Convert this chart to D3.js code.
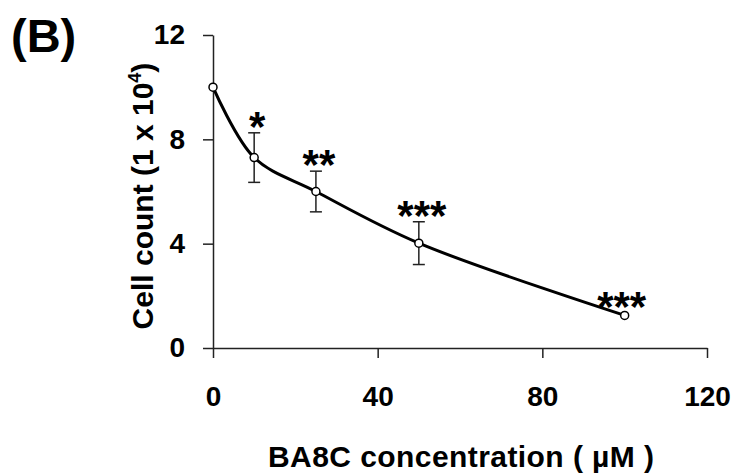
<!DOCTYPE html>
<html>
<head>
<meta charset="utf-8">
<script src="https://d3js.org/d3.v7.min.js"></script>
<style>
  body { margin: 0; background: #fff; }
  text { font-family: "Liberation Sans", Arial, sans-serif; font-weight: bold; fill: #000; }
</style>
</head>
<body>
<svg id="chart"></svg>
<script>
// concentrations (uM) and cell counts (x 10^4)
var conc = [0, 10, 25, 50, 100];
var count = [10.0, 7.3, 6.0, 4.02, 1.25];
var err = [0, 0.95, 0.78, 0.82, 0];
var stars = ["", "*", "**", "***", "***"];
var xTicks = [0, 40, 80, 120];
var yTicks = [0, 4, 8, 12];

var W = 739, H = 474;
var svg = d3.select("#chart").attr("width", W).attr("height", H);

var x = d3.scaleLinear().domain([0, 120]).range([213, 707]);
var y = d3.scaleLinear().domain([0, 12]).range([348, 35]);

// axes
var xAxis = svg.append("g")
    .attr("transform", "translate(0," + y(0) + ")")
    .call(d3.axisBottom(x).tickValues(xTicks).tickSize(10).tickSizeOuter(0).tickPadding(28));
var yAxis = svg.append("g")
    .attr("transform", "translate(" + x(0) + ",0)")
    .call(d3.axisLeft(y).tickValues(yTicks).tickSize(10).tickSizeOuter(0).tickPadding(18));

[xAxis, yAxis].forEach(function(g) {
  g.select(".domain").attr("stroke", "#222").attr("stroke-width", 1.5);
  g.selectAll(".tick line").attr("stroke", "#222").attr("stroke-width", 1.5);
  g.selectAll("text").attr("font-family", "Liberation Sans, Arial, sans-serif").attr("font-weight", "bold").attr("fill", "#000");
});
xAxis.selectAll("text").attr("font-size", 28).attr("dy", "0.71em");
yAxis.selectAll("text").attr("font-size", 28);

var data = conc.map(function(c, i) { return {c: c, v: count[i], e: err[i], s: stars[i]}; });

// smoothed line
var line = d3.line()
    .x(function(d) { return x(d.c); })
    .y(function(d) { return y(d.v); })
    .curve(d3.curveCatmullRom.alpha(0.5));

svg.append("path")
    .datum(data)
    .attr("d", line)
    .attr("fill", "none")
    .attr("stroke", "#000")
    .attr("stroke-width", 3);

// error bars
var eb = svg.selectAll(".err").data(data.filter(function(d) { return d.e > 0; }))
  .enter().append("g").attr("stroke", "#222").attr("stroke-width", 1.5);
eb.append("line")
    .attr("x1", function(d) { return x(d.c); })
    .attr("x2", function(d) { return x(d.c); })
    .attr("y1", function(d) { return y(d.v + d.e); })
    .attr("y2", function(d) { return y(d.v - d.e); });
eb.append("line")
    .attr("x1", function(d) { return x(d.c) - 6; })
    .attr("x2", function(d) { return x(d.c) + 6; })
    .attr("y1", function(d) { return y(d.v + d.e); })
    .attr("y2", function(d) { return y(d.v + d.e); });
eb.append("line")
    .attr("x1", function(d) { return x(d.c) - 6; })
    .attr("x2", function(d) { return x(d.c) + 6; })
    .attr("y1", function(d) { return y(d.v - d.e); })
    .attr("y2", function(d) { return y(d.v - d.e); });

// markers
svg.selectAll(".pt").data(data).enter().append("circle")
    .attr("cx", function(d) { return x(d.c); })
    .attr("cy", function(d) { return y(d.v); })
    .attr("r", 4)
    .attr("fill", "#fff")
    .attr("stroke", "#000")
    .attr("stroke-width", 1.5);

// significance stars
svg.selectAll(".star").data(data.filter(function(d) { return d.s; })).enter().append("text")
    .attr("x", function(d) { return x(d.c) + (d.e > 0 ? 3 : -3); })
    .attr("y", function(d) { return y(d.v + d.e) + (d.e > 0 ? 8 : 6); })
    .attr("text-anchor", "middle")
    .attr("font-size", 42)
    .text(function(d) { return d.s; });

// labels
svg.append("text")
    .attr("x", 11).attr("y", 52)
    .attr("font-size", 47)
    .text("(B)");

svg.append("text")
    .attr("x", 461).attr("y", 467)
    .attr("text-anchor", "middle")
    .attr("font-size", 30)
    .attr("textLength", 386)
    .text("BA8C concentration ( µM )");

var yt = svg.append("text")
    .attr("transform", "translate(153,196) rotate(-90)")
    .attr("text-anchor", "middle")
    .attr("font-size", 30);
yt.append("tspan").text("Cell count (1 x 10");
yt.append("tspan").attr("font-size", 18).attr("dy", -12).text("4");
yt.append("tspan").attr("dy", 12).text(")");
</script>
</body>
</html>
